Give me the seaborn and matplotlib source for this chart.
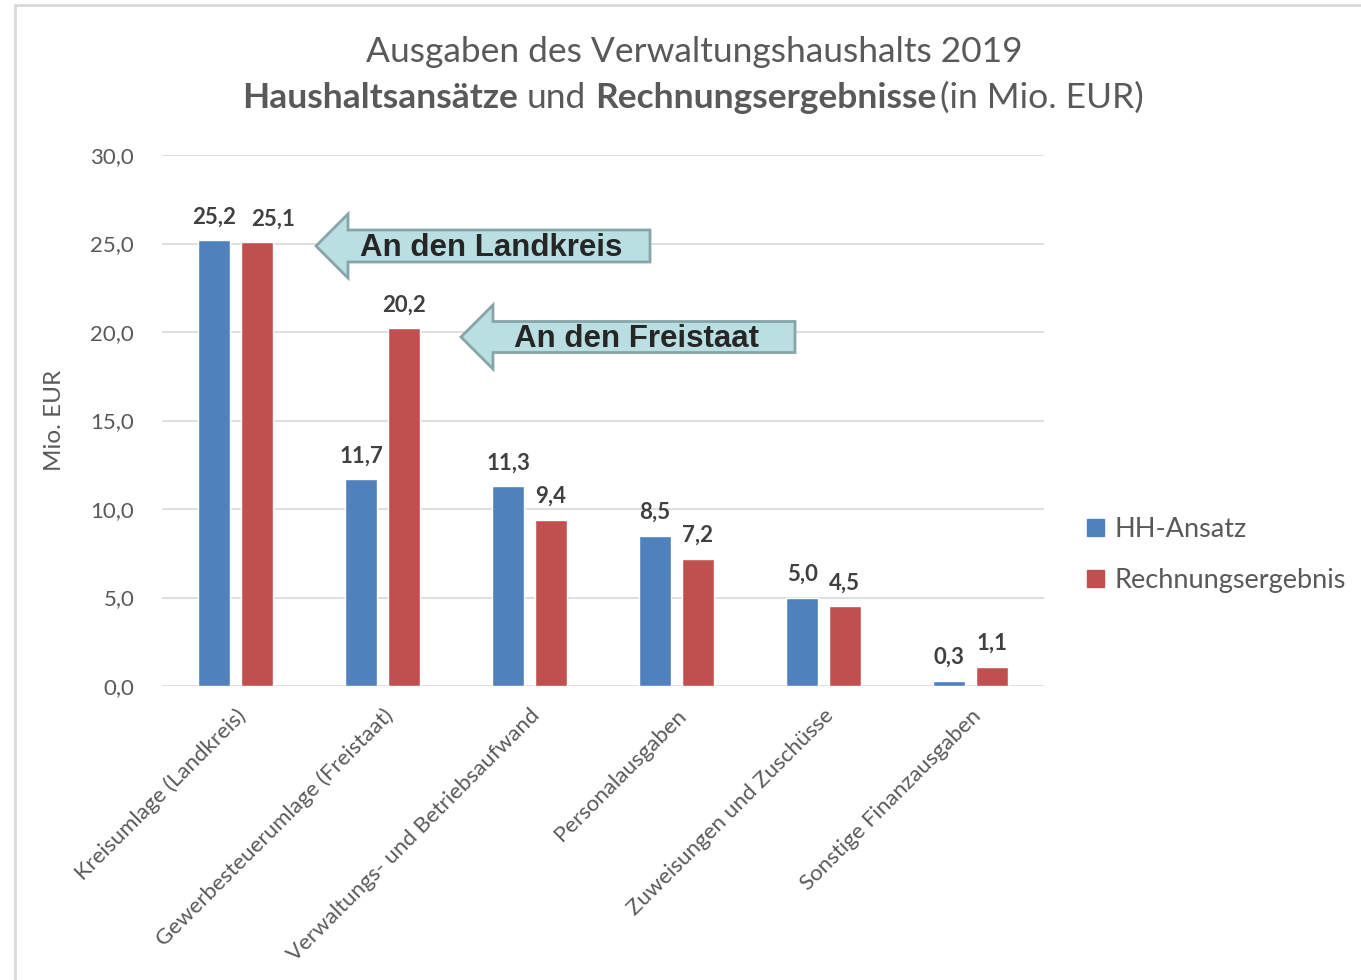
import pandas as pd
import matplotlib
matplotlib.use('Agg')
import matplotlib.pyplot as plt
from matplotlib.patches import Polygon, Rectangle, Patch
import seaborn as sns

kategorien = ['Kreisumlage (Landkreis)', 'Gewerbesteuerumlage (Freistaat)',
              'Verwaltungs- und Betriebsaufwand', 'Personalausgaben',
              'Zuweisungen und Zuschüsse', 'Sonstige Finanzausgaben']
hh_ansatz = [25.2, 11.7, 11.3, 8.5, 5.0, 0.3]
rechnungsergebnis = [25.1, 20.2, 9.4, 7.2, 4.5, 1.1]
serien = ['HH-Ansatz', 'Rechnungsergebnis']
y_ticks = [0, 5, 10, 15, 20, 25, 30]

df = pd.DataFrame({
    'Kategorie': kategorien * 2,
    'Wert': hh_ansatz + rechnungsergebnis,
    'Serie': [serien[0]] * len(kategorien) + [serien[1]] * len(kategorien),
})

blau = '#4F81BD'
rot = '#C0504D'
grau = '#595959'
W, H = 1361, 980

sns.set_style('white')
plt.rcParams['font.family'] = ['Lato', 'DejaVu Sans']

fig = plt.figure(figsize=(W / 100, H / 100), dpi=100)
ax = fig.add_axes([162 / W, 1 - 686 / H, (1044 - 162) / W, (686 - 155) / H])

sns.barplot(data=df, x='Kategorie', y='Wert', hue='Serie', palette=[blau, rot],
            saturation=1, width=0.58, gap=0.24, ax=ax, legend=False)

ax.set_ylim(0, 30)
ax.set_yticks(y_ticks)
ax.set_yticklabels([f'{v:.1f}'.replace('.', ',') for v in y_ticks], color=grau, fontsize=16)
ax.yaxis.grid(True, color='#D9D9D9', linewidth=1.2)
ax.set_axisbelow(True)
for s in ax.spines.values():
    s.set_visible(False)
ax.tick_params(axis='both', length=0)
ax.tick_params(axis='y', pad=20)
ax.tick_params(axis='x', pad=14)
ax.set_xticks(range(len(kategorien)))
ax.set_xticklabels(kategorien, rotation=45, ha='right', rotation_mode='anchor',
                   color=grau, fontsize=16)
ax.set_xlabel('')
ax.set_ylabel('Mio. EUR', color=grau, fontsize=17.5, labelpad=18)

# Werte über den Balken
beschriftungen = []
for cont in ax.containers:
    werte = [b.get_height() for b in cont]
    beschriftungen.append(ax.bar_label(
        cont, labels=[f'{v:.1f}'.replace('.', ',') for v in werte],
        padding=9, fontsize=16, fontweight='bold', color='#404040'))
# 25,1 etwas nach rechts, damit es nicht an 25,2 klebt
beschriftungen[1][0].xyann = (12, 9)

# Legende
ax.legend(handles=[Patch(color=blau), Patch(color=rot)], labels=serien,
          loc='center left', bbox_to_anchor=(1063 / W, 1 - 555 / H),
          bbox_transform=fig.transFigure, frameon=False, fontsize=19.5,
          labelspacing=0.95, handlelength=0.6, handleheight=0.6,
          handletextpad=0.4, labelcolor=grau)

# Titel
fig.text(694 / W, 1 - 52 / H, 'Ausgaben des Verwaltungshaushalts 2019',
         ha='center', va='center', fontsize=25.5, color=grau)
teile = [('Haushaltsansätze', 'bold'), ('und', 'normal'),
         ('Rechnungsergebnisse', 'bold'), ('(in Mio. EUR)', 'normal')]
luecken = [9, 9, 4]
texte = [fig.text(0, 1 - 98 / H, t, ha='left', va='center', fontsize=25.5,
                  fontweight=w, color=grau) for t, w in teile]
fig.canvas.draw()
r = fig.canvas.get_renderer()
breiten = [t.get_window_extent(r).width for t in texte]
gesamt = sum(breiten) + sum(luecken)
x = 693 - gesamt / 2
for i, t in enumerate(texte):
    t.set_x(x / W)
    x += breiten[i] + (luecken[i] if i < len(luecken) else 0)


# Pfeile (Pixelkoordinaten von oben links)
def pfeil(tip_x, tip_y, kopf_l, kopf_h, koerper_h, rechts):
    pts = [(tip_x, tip_y), (tip_x + kopf_l, tip_y - kopf_h / 2),
           (tip_x + kopf_l, tip_y - koerper_h / 2), (rechts, tip_y - koerper_h / 2),
           (rechts, tip_y + koerper_h / 2), (tip_x + kopf_l, tip_y + koerper_h / 2),
           (tip_x + kopf_l, tip_y + kopf_h / 2)]
    pts = [(px / W, 1 - py / H) for px, py in pts]
    fig.patches.append(Polygon(pts, closed=True, facecolor='#B9DFE3',
                               edgecolor='#86A5A8', linewidth=2,
                               transform=fig.transFigure, zorder=5))


pfeil(316, 246, 32, 64, 32, 650)
pfeil(461, 337, 32, 64, 31, 795)
fig.text(491 / W, 1 - 248 / H, 'An den Landkreis', ha='center', va='center',
         fontsize=22.5, fontweight='bold', family='Liberation Sans', zorder=6)
fig.text(636 / W, 1 - 339 / H, 'An den Freistaat', ha='center', va='center',
         fontsize=22.5, fontweight='bold', family='Liberation Sans', zorder=6)

# Rahmen
fig.patches.append(Rectangle((15 / W, -0.01), 1.0, 1 - 5 / H + 0.01, fill=False,
                             edgecolor='#D9D9D9', linewidth=2,
                             transform=fig.transFigure, zorder=0))

fig.savefig('out.png', dpi=100)
